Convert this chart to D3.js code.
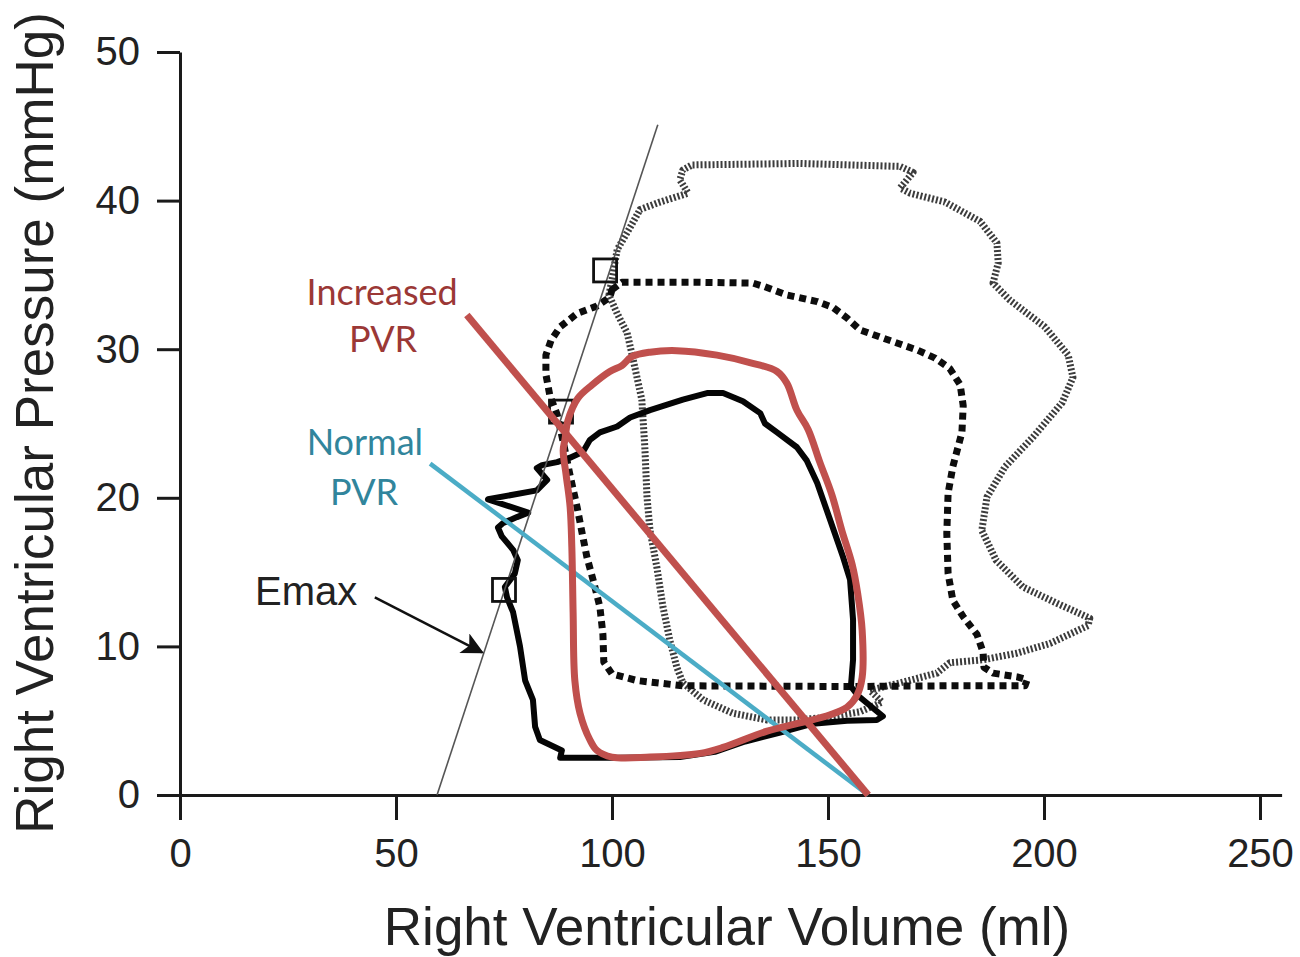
<!DOCTYPE html>
<html>
<head>
<meta charset="utf-8">
<script src="https://cdn.jsdelivr.net/npm/d3@7"></script>
<style>
  body { margin: 0; background: #fff; }
  svg { display: block; }
</style>
</head>
<body>
<svg id="chart" width="1300" height="957"></svg>
<script>
// axis ticks
let volumeTicks = [0, 50, 100, 150, 200, 250]
let pressureTicks = [0, 10, 20, 30, 40, 50]

// loops, [volume ml, pressure mmHg]
let baselineLoop = [
    [88.0,2.5],[88.4,3.0],[83.3,3.7],[82.2,4.6],[81.7,6.4],[79.9,7.7],[78.7,10.0],[77.1,12.3],
    [75.7,13.3],[75.2,14.0],[77.5,14.9],[78.2,15.8],[77.1,16.5],[74.5,17.4],[73.6,18.0],[74.8,18.3],
    [78.0,18.7],[80.6,19.0],[71.3,19.9],[82.6,20.5],[85.0,21.2],[82.6,22.0],[83.8,22.2],[87.3,22.4],
    [90.3,22.7],[93.3,23.1],[94.9,23.9],[97.2,24.4],[101.2,24.8],[104.2,25.4],[108.8,25.9],[116.4,26.6],
    [122.0,27.05],[125.7,27.05],[130.3,26.5],[134.3,25.7],[135.4,25.0],[138.2,24.4],[142.8,23.4],[145.1,22.5],
    [147.5,21.0],[150.5,18.5],[153.5,16.0],[155.1,14.5],[155.8,11.8],[155.8,9.1],[155.3,7.3],[156.9,6.7],
    [162.7,5.3],[161.3,5.05],[154.4,5.0],[146.5,4.8],[138.9,4.2],[130.8,3.6],[123.8,2.9],[115.7,2.55],
    [101.9,2.5]
]

let dottedLoop = [
    [100.0,34.0],[102.3,34.5],[120.4,34.5],[132.6,34.45],[135.4,34.2],[140.5,33.65],[147.5,33.2],[151.2,32.8],
    [154.4,32.1],[157.4,31.3],[162.7,30.75],[170.6,29.95],[174.8,29.4],[178.2,28.7],[180.6,27.6],[181.3,26.2],
    [181.0,24.4],[178.9,22.1],[177.8,20.3],[177.5,17.6],[177.8,14.9],[178.9,13.1],[181.3,12.0],[184.5,10.8],
    [185.9,9.6],[186.1,8.6],[188.2,8.2],[193.8,7.95],[196.1,7.75],[195.6,7.35],[178.2,7.35],[155.1,7.3],
    [116.4,7.35],[105.8,7.7],[100.0,8.15],[98.1,8.95],[97.9,10.8],[97.2,12.65],[95.6,14.5],[94.2,16.0],
    [93.1,17.6],[91.9,19.4],[90.3,21.5],[88.9,23.5],[87.3,25.6],[85.6,26.9],[84.7,28.3],[84.7,29.6],
    [85.9,30.6],[88.0,31.5],[91.9,32.4],[96.5,32.9],[99.5,33.5]
]

let hatchedLoop = [
    [100.0,34.7],[101.2,36.7],[104.2,38.2],[106.5,39.4],[111.1,39.9],[117.6,40.5],[115.7,41.4],[116.4,42.06],
    [118.5,42.4],[143.5,42.5],[166.7,42.3],[169.7,41.9],[166.7,40.85],[169.0,40.5],[177.1,39.9],[185.2,38.6],
    [189.1,37.15],[189.4,35.8],[188.2,34.45],[192.1,33.3],[200.2,31.5],[205.6,29.6],[206.7,28.1],[204.2,26.4],
    [197.5,24.1],[191.0,22.1],[186.8,20.05],[185.6,17.8],[188.9,15.8],[195.1,14.0],[203.0,12.9],[210.6,11.9],
    [210.2,11.4],[201.4,10.2],[193.8,9.55],[185.9,9.1],[178.2,8.9],[175.2,8.2],[166.7,7.55],[159.7,7.05],
    [162.5,6.25],[157.4,5.6],[150.5,5.25],[142.8,5.05],[135.9,5.05],[128.0,5.5],[121.1,6.4],[116.4,7.55],
    [115.0,8.6],[113.4,10.4],[111.8,12.65],[110.4,15.3],[108.8,17.8],[108.1,20.05],[107.6,23.4],[106.9,26.6],
    [104.9,29.3],[103.5,31.1],[101.2,32.4],[99.3,33.65]
]

let increasedLoop = [
    [89.1,23.9],[89.8,25.2],[92.1,26.7],[95.4,27.6],[99.5,28.5],[102.3,28.9],[104.6,29.5],[108.8,29.8],
    [115.0,29.9],[124.3,29.6],[131.9,29.1],[138.2,28.5],[140.5,27.7],[142.8,25.9],[145.4,24.6],[148.1,22.4],
    [150.9,20.2],[153.2,17.8],[155.6,15.5],[156.9,13.5],[157.9,11.1],[157.9,7.9],[156.7,6.7],[154.4,5.9],
    [150.5,5.4],[143.5,4.85],[135.9,4.3],[125.7,3.2],[120.4,2.8],[108.8,2.55],[100.0,2.55],[96.5,3.0],
    [94.9,3.7],[92.6,5.5],[91.4,7.7],[91.0,12.3],[90.7,16.7],[90.3,19.4],[89.4,21.5],[88.7,23.2]
]

// end-systolic points and Emax
let esPoints = [[98.4,35.3],[88.2,25.8],[75.0,13.8]]
let emaxLine = [[59.5,0],[110.6,45.1]]

// arterial elastance lines
let normalPvr = [[57.9,22.3],[159.3,0]]
let increasedPvr = [[66.4,32.3],[159.3,0]]

let svg = d3.select("#chart")

let x = d3.scaleLinear().domain([0, 255]).range([180, 1281.6])
let y = d3.scaleLinear().domain([0, 50]).range([795, 52])

let line = d3.line().x(d => x(d[0])).y(d => y(d[1]))
let smooth = d3.line().x(d => x(d[0])).y(d => y(d[1])).curve(d3.curveCatmullRomClosed.alpha(0.5))
let closed = d3.line().x(d => x(d[0])).y(d => y(d[1])).curve(d3.curveLinearClosed)

// axes
let xAxis = svg.append("g")
    .attr("transform", "translate(0," + y(0) + ")")
    .call(d3.axisBottom(x).tickValues(volumeTicks).tickSize(25).tickSizeOuter(0).tickPadding(19))
let yAxis = svg.append("g")
    .attr("transform", "translate(" + x(0) + ",0)")
    .call(d3.axisLeft(y).tickValues(pressureTicks).tickSize(23).tickSizeOuter(0).tickPadding(17))

for (let ax of [xAxis, yAxis]) {
    ax.select(".domain").attr("stroke", "#1a1a1a").attr("stroke-width", 3)
    ax.selectAll(".tick line").attr("stroke", "#1a1a1a").attr("stroke-width", 3)
    ax.selectAll(".tick text")
        .attr("fill", "#222")
        .style("font-family", "'Liberation Sans', Arial, sans-serif")
        .style("font-size", "40px")
}

svg.append("text")
    .attr("x", 727).attr("y", 945)
    .attr("text-anchor", "middle")
    .style("font-family", "'Liberation Sans', Arial, sans-serif")
    .style("font-size", "53px")
    .attr("fill", "#222")
    .text("Right Ventricular Volume (ml)")

svg.append("text")
    .attr("transform", "translate(53,423) rotate(-90)")
    .attr("text-anchor", "middle")
    .style("font-family", "'Liberation Sans', Arial, sans-serif")
    .style("font-size", "53px")
    .attr("fill", "#222")
    .text("Right Ventricular Pressure (mmHg)")

// pressure-volume loops
svg.append("path").attr("d", closed(hatchedLoop))
    .attr("fill", "none").attr("stroke", "#3c3c3c").attr("stroke-width", 7)
    .attr("stroke-dasharray", "2 2").attr("stroke-linejoin", "round")

svg.append("path").attr("d", closed(dottedLoop))
    .attr("fill", "none").attr("stroke", "#0d0d0d").attr("stroke-width", 7)
    .attr("stroke-dasharray", "7 5").attr("stroke-linejoin", "round")

svg.append("path").attr("d", closed(baselineLoop))
    .attr("fill", "none").attr("stroke", "#050505").attr("stroke-width", 6)
    .attr("stroke-linejoin", "round")

// Emax
svg.append("path").attr("d", line(emaxLine))
    .attr("stroke", "#555").attr("stroke-width", 1.6).attr("fill", "none")

svg.selectAll("rect.es")
    .data(esPoints).enter()
    .append("rect")
    .attr("class", "es")
    .attr("x", d => x(d[0]) - 11.5)
    .attr("y", d => y(d[1]) - 11.5)
    .attr("width", 23).attr("height", 23)
    .attr("fill", "none").attr("stroke", "#111").attr("stroke-width", 2.8)

svg.append("defs").append("marker")
    .attr("id", "arrow")
    .attr("viewBox", "0 0 10 10")
    .attr("refX", 9).attr("refY", 5)
    .attr("markerWidth", 26).attr("markerHeight", 22)
    .attr("markerUnits", "userSpaceOnUse")
    .attr("orient", "auto")
    .append("path").attr("d", "M0,0 L10,5 L0,10 L2.5,5 Z").attr("fill", "#111")

svg.append("path").attr("d", line([[45.1,13.3],[69.9,9.6]]))
    .attr("stroke", "#111").attr("stroke-width", 2.5).attr("fill", "none")
    .attr("marker-end", "url(#arrow)")

svg.append("text")
    .attr("x", x(29.2)).attr("y", y(12.8))
    .attr("text-anchor", "middle")
    .style("font-family", "'Liberation Sans', Arial, sans-serif")
    .style("font-size", "40px")
    .attr("fill", "#222")
    .text("Emax")

// PVR lines
svg.append("path").attr("d", line(normalPvr))
    .attr("stroke", "#4bacc6").attr("stroke-width", 4.5).attr("fill", "none")
svg.append("path").attr("d", line(increasedPvr))
    .attr("stroke", "#c0504d").attr("stroke-width", 7).attr("fill", "none")
svg.append("path").attr("d", smooth(increasedLoop))
    .attr("stroke", "#c0504d").attr("stroke-width", 7).attr("fill", "none")
    .attr("stroke-linejoin", "round")

let labelFont = "Lato, 'Open Sans', sans-serif"
let labels = [
    {text: "Increased", v: 46.8, p: 33.0, color: "#9b3836"},
    {text: "PVR", v: 47.0, p: 29.8, color: "#9b3836"},
    {text: "Normal", v: 42.8, p: 22.9, color: "#31859c"},
    {text: "PVR", v: 42.6, p: 19.5, color: "#31859c"}
]
svg.selectAll("text.pvr")
    .data(labels).enter()
    .append("text")
    .attr("class", "pvr")
    .attr("x", d => x(d.v)).attr("y", d => y(d.p))
    .attr("text-anchor", "middle")
    .style("font-family", labelFont)
    .style("font-size", "36px")
    .attr("fill", d => d.color)
    .text(d => d.text)
</script>
</body>
</html>
